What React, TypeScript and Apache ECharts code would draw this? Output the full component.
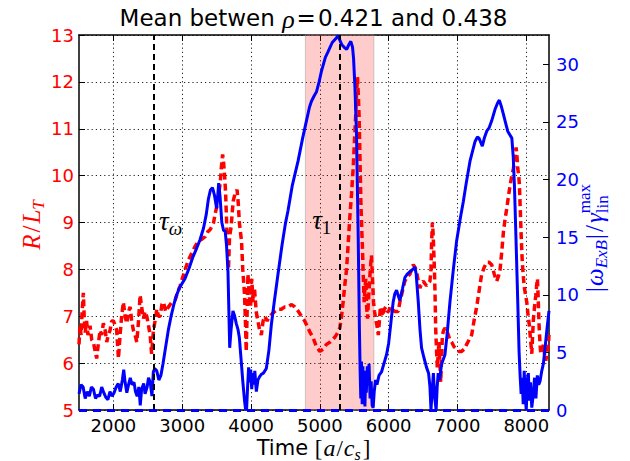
import React, { useEffect, useRef } from "react";
import * as echarts from "echarts";

// ---------- data ----------
const xTicks = [2000, 3000, 4000, 5000, 6000, 7000, 8000];
const leftTicks = [5, 6, 7, 8, 9, 10, 11, 12, 13];
const rightTicks = [0, 5, 10, 15, 20, 25, 30];
const tauLines = [2580, 5290];
const bandRange = [4790, 5785];
const tauLabelPos = [
  [2830, 9.03],
  [5028, 9.05],
];

const blueT = [
  1500, 1530, 1560, 1590, 1620, 1650, 1680, 1710, 1740, 1770, 1800, 1830, 1860, 1890, 1920, 1950, 1980, 2010,
  2040, 2070, 2100, 2130, 2150, 2170, 2195, 2220, 2245, 2270, 2300, 2320, 2345, 2370, 2390, 2410, 2440, 2460,
  2490, 2510, 2535, 2560, 2580, 2600, 2630, 2660, 2690, 2720, 2760, 2800, 2840, 2880, 2920, 2960, 3000, 3040,
  3100, 3150, 3200, 3260, 3310, 3350, 3380, 3410, 3440, 3470, 3500, 3515, 3530, 3550, 3575, 3600, 3625, 3645,
  3665, 3680, 3690, 3710, 3737, 3760, 3786, 3810, 3830, 3858, 3880, 3906, 3920, 3935, 3950, 3965, 3980, 3995,
  4010, 4025, 4040, 4055, 4077, 4100, 4125, 4150, 4180, 4222, 4260, 4295, 4340, 4392, 4450, 4500, 4537, 4600,
  4683, 4750, 4805, 4850, 4878, 4920, 4950, 4990, 5023, 5080, 5120, 5180, 5240, 5266, 5290, 5320, 5350, 5390,
  5420, 5450, 5475, 5490, 5510, 5533, 5557, 5575, 5585, 5595, 5605, 5615, 5625, 5635, 5645, 5655, 5665, 5675,
  5690, 5700, 5715, 5730, 5745, 5760, 5775, 5790, 5810, 5830, 5860, 5896, 5930, 5969, 6000, 6040, 6066, 6090,
  6115, 6140, 6163, 6200, 6236, 6270, 6309, 6350, 6381, 6400, 6430, 6455, 6478, 6510, 6550, 6580, 6600, 6615,
  6630, 6650, 6670, 6690, 6705, 6720, 6740, 6769, 6818, 6850, 6891, 6940, 6988, 7040, 7085, 7130, 7182, 7220,
  7255, 7290, 7313, 7340, 7361, 7390, 7425, 7460, 7497, 7546, 7580, 7608, 7640, 7666, 7700, 7730, 7760, 7790,
  7810, 7827, 7845, 7862, 7880, 7895, 7910, 7925, 7940, 7955, 7970, 7985, 8000, 8015, 8030, 8045, 8060, 8080,
  8100, 8120, 8140, 8160, 8180, 8200, 8225, 8248, 8280, 8300, 8330,
];
const blueV = [
  1.4, 2.2, 2.0, 1.0, 1.6, 1.2, 2.0, 1.8, 1.0, 1.3, 1.2, 2.0, 1.5, 1.1, 0.9, 1.6, 1.2, 1.5,
  2.0, 2.3, 1.6, 2.6, 3.5, 2.4, 1.5, 2.2, 2.8, 2.2, 2.4, 1.6, 1.2, 2.0, 0.4, 1.8, 2.3, 1.4,
  2.0, 2.8, 2.4, 1.2, 3.3, 3.6, 3.4, 2.6, 3.0, 4.0, 5.5, 7.0, 8.2, 9.2, 10.0, 10.6, 11.0, 11.4,
  12.3, 13.2, 13.9, 14.8, 15.8, 17.0, 18.3, 19.1, 19.3, 18.6, 17.5, 18.5, 19.7, 18.5, 16.3, 15.6, 15.5, 14.2,
  12.0, 8.0, 5.4, 7.0, 8.6, 8.2, 7.5, 7.0, 6.3, 4.2, 2.5, 0.8, 0.1, 0.0, 2.0, 3.7, 2.4, 3.5,
  1.8, 3.2, 2.2, 3.4, 1.6, 2.6, 2.9, 3.1, 3.2, 3.6, 5.2, 7.4, 9.5, 11.8, 14.3, 16.2, 17.3, 19.5,
  21.6, 23.6, 25.1, 26.3, 26.8, 27.3, 27.6, 28.5, 29.4, 30.6, 31.1, 31.9, 32.3, 32.5, 32.1, 31.7, 31.5, 31.3,
  31.7, 32.0, 31.5, 30.5, 28.0, 23.9, 15.2, 7.0, 3.5, 1.0, 4.2, 0.5, 3.8, 1.2, 3.4, 0.3, 3.0, 1.5,
  3.8, 2.2, 4.0, 1.0, 2.5, 0.4, 0.2, 1.6, 2.6, 2.2, 3.0, 3.3, 4.0, 4.8, 5.8, 8.0, 9.4, 10.1,
  10.4, 9.9, 9.5, 10.5, 11.5, 11.8, 12.0, 12.2, 12.4, 11.8, 9.4, 7.0, 5.4, 4.6, 3.7, 3.2, 2.0, 0.0,
  1.5, 3.2, 1.0, 0.0, 2.0, 3.2, 2.6, 4.0, 4.8, 6.6, 9.4, 12.2, 14.7, 16.6, 18.1, 19.8, 21.6, 22.5,
  23.3, 23.7, 23.6, 23.2, 22.9, 23.6, 24.2, 24.5, 25.1, 26.1, 26.6, 26.9, 26.3, 25.7, 24.9, 24.2, 23.9, 23.6,
  22.0, 19.6, 16.0, 12.4, 8.5, 5.1, 3.0, 1.4, 2.8, 0.5, 3.4, 1.0, 0.0, 2.6, 3.2, 0.8, 2.4, 0.2,
  1.3, 2.8, 1.0, 3.0, 2.2, 2.5, 3.4, 4.0, 5.8, 7.0, 8.6,
];

const redT = [
  1500, 1515, 1530, 1545, 1563, 1575, 1590, 1610, 1630, 1660, 1685, 1709, 1735, 1757, 1780, 1806, 1830, 1854,
  1880, 1903, 1925, 1951, 1975, 2000, 2025, 2048, 2073, 2097, 2120, 2145, 2170, 2194, 2220, 2243, 2265, 2291,
  2315, 2340, 2365, 2388, 2410, 2437, 2460, 2485, 2510, 2534, 2555, 2582, 2605, 2631, 2655, 2680, 2705, 2728,
  2760, 2801, 2850, 2898, 2930, 2970, 3000, 3043, 3090, 3140, 3190, 3237, 3290, 3334, 3370, 3407, 3456, 3480,
  3504, 3530, 3553, 3570, 3587, 3600, 3616, 3630, 3645, 3660, 3672, 3688, 3710, 3740, 3765, 3797, 3815, 3830,
  3862, 3880, 3906, 3920, 3930, 3945, 3955, 3970, 3993, 4010, 4030, 4050, 4075, 4100, 4125, 4150, 4175, 4200,
  4235, 4270, 4305, 4343, 4390, 4440, 4490, 4537, 4590, 4635, 4690, 4732, 4780, 4828, 4860, 4900, 4950, 5000,
  5050, 5096, 5150, 5217, 5260, 5290, 5315, 5338, 5365, 5388, 5410, 5435, 5460, 5484, 5505, 5523, 5535, 5547,
  5560, 5572, 5584, 5596, 5608, 5620, 5632, 5644, 5656, 5668, 5680, 5693, 5705, 5717, 5733, 5750, 5765, 5780,
  5795, 5810, 5830, 5850, 5865, 5880, 5895, 5910, 5935, 5960, 5980, 6000, 6020, 6050, 6090, 6139, 6163, 6187,
  6210, 6236, 6270, 6309, 6357, 6380, 6406, 6430, 6454, 6480, 6503, 6525, 6551, 6575, 6600, 6615, 6625, 6635,
  6645, 6655, 6665, 6675, 6683, 6695, 6707, 6720, 6731, 6745, 6756, 6770, 6780, 6800, 6818, 6840, 6867, 6890,
  6915, 6950, 6988, 7020, 7060, 7100, 7133, 7170, 7206, 7240, 7279, 7315, 7352, 7390, 7425, 7460, 7497, 7535,
  7570, 7595, 7619, 7645, 7668, 7690, 7716, 7740, 7765, 7790, 7813, 7835, 7852, 7865, 7876, 7890, 7900, 7912,
  7925, 7937, 7949, 7960, 7973, 7990, 8007, 8020, 8032, 8045, 8056, 8068, 8080, 8092, 8104, 8120, 8138, 8150,
  8162, 8175, 8187, 8200, 8211, 8230, 8250, 8265, 8283, 8300, 8322, 8330,
];
const redV = [
  6.4, 6.8, 6.6, 7.1, 7.5, 7.0, 6.65, 6.9, 6.6, 6.8, 6.5, 6.45, 6.25, 6.1, 6.4, 6.7, 6.6, 6.85,
  6.7, 6.45, 6.6, 6.7, 6.9, 6.9, 6.8, 6.7, 6.1, 6.6, 7.0, 7.3, 7.0, 6.85, 7.1, 7.2, 6.9, 6.7,
  6.6, 6.45, 6.9, 7.45, 7.2, 6.95, 7.1, 7.0, 6.8, 6.6, 6.2, 6.7, 6.9, 7.15, 7.0, 7.0, 7.25, 7.3,
  7.1, 7.2, 7.3, 7.35, 7.5, 7.65, 7.8, 8.0, 8.2, 8.35, 8.5, 8.6, 8.65, 8.7, 8.8, 8.85, 9.0, 9.2,
  9.35, 9.6, 9.85, 10.2, 10.45, 10.3, 10.0, 9.65, 9.0, 8.4, 8.0, 8.7, 8.9, 9.45, 9.6, 9.7, 9.4, 9.0,
  8.6, 8.0, 7.45, 6.8, 6.25, 7.2, 7.9, 7.5, 7.2, 7.8, 7.3, 7.6, 7.1, 6.9, 6.7, 6.6, 6.9, 7.0,
  6.9, 7.0, 7.05, 7.1, 7.15, 7.15, 7.2, 7.2, 7.25, 7.2, 7.1, 7.0, 6.9, 6.75, 6.65, 6.55, 6.35, 6.25,
  6.3, 6.4, 6.45, 6.55, 6.65, 6.75, 7.0, 7.3, 7.7, 8.0, 8.5, 9.1, 9.6, 10.15, 10.8, 11.35, 11.8, 12.1,
  11.7, 11.2, 10.3, 9.45, 8.9, 8.4, 7.8, 7.3, 7.6, 7.8, 7.2, 6.95, 7.3, 7.6, 8.0, 8.3, 7.8, 7.3,
  7.1, 6.95, 6.8, 6.6, 6.9, 7.2, 7.1, 7.0, 7.15, 7.2, 7.1, 7.1, 7.2, 7.15, 7.1, 7.1, 7.3, 7.45,
  7.6, 7.75, 7.85, 7.9, 8.1, 8.05, 7.95, 7.75, 7.6, 7.7, 7.75, 7.7, 7.65, 7.7, 7.75, 8.0, 8.6, 9.0,
  8.8, 8.4, 8.0, 7.4, 6.75, 6.3, 5.9, 6.2, 6.45, 6.0, 5.6, 6.1, 6.6, 6.7, 6.75, 6.7, 6.6, 6.5,
  6.45, 6.35, 6.3, 6.25, 6.25, 6.3, 6.4, 6.5, 6.6, 6.9, 7.2, 7.55, 7.9, 8.05, 8.15, 8.15, 8.1, 7.9,
  7.75, 7.85, 8.0, 8.4, 8.8, 9.05, 9.3, 9.55, 9.8, 10.0, 10.15, 10.4, 10.6, 10.4, 10.15, 10.0, 9.8, 9.3,
  8.75, 8.3, 8.0, 7.8, 7.6, 7.45, 7.3, 7.1, 6.95, 6.8, 6.6, 6.4, 6.2, 6.6, 6.95, 7.2, 7.45, 7.65,
  7.8, 7.3, 6.75, 6.4, 6.2, 6.3, 6.4, 6.2, 6.05, 6.2, 6.4, 6.6,
];

// ---------- helpers ----------
const SANS = '"DejaVu Sans"';
const SERIF = '"Liberation Serif"';

let ctx: CanvasRenderingContext2D | null = null;
function measure(text: string, size: number, fam: string, italic: boolean) {
  if (!ctx) ctx = document.createElement("canvas").getContext("2d");
  if (!ctx) return text.length * size * 0.6;
  ctx.font = `${italic ? "italic " : ""}${size}px ${fam}`;
  return ctx.measureText(text).width;
}

type Piece = { t: string; size: number; fam: string; italic?: boolean; dy: number; gap?: number; stack?: boolean };

function buildPieces(pieces: Piece[], color: string) {
  let x = 0;
  let prevStart = 0;
  const items: any[] = [];
  for (const p of pieces) {
    const w = measure(p.t, p.size, p.fam, !!p.italic);
    let start: number;
    if (p.stack) {
      start = prevStart;
      x = Math.max(x, start + w);
    } else {
      start = x + (p.gap || 0);
      x = start + w;
    }
    items.push({ start, p });
    prevStart = start;
  }
  const total = x;
  return items.map(({ start, p }) => ({
    type: "text",
    x: start - total / 2,
    y: p.dy,
    silent: true,
    style: {
      text: p.t,
      fontSize: p.size,
      fontFamily: p.fam,
      fontStyle: p.italic ? "italic" : "normal",
      fill: color,
      align: "left",
      verticalAlign: "middle",
    },
  }));
}

export default function App() {
  const ref = useRef<HTMLDivElement>(null);
  useEffect(() => {
    if (!ref.current) return;
    const chart = echarts.init(ref.current, undefined, { renderer: "svg" });

    const redData = redT.map((t, i) => [t, redV[i]]);
    const blueData = blueT.map((t, i) => [t, blueV[i]]);

    const titleEls = buildPieces(
      [
        { t: "Mean betwen ", size: 23, fam: SANS, dy: 0 },
        { t: "ρ", size: 26, fam: SERIF, italic: true, dy: 1 },
        { t: "=", size: 23, fam: SANS, dy: 0, gap: 2 },
        { t: "0.421 and 0.438", size: 23, fam: SANS, dy: 0, gap: 2 },
      ],
      "#000"
    );

    const xNameEls = buildPieces(
      [
        { t: "Time ", size: 21, fam: SANS, dy: 0 },
        { t: "[", size: 23, fam: SERIF, dy: 0 },
        { t: "a", size: 24, fam: SERIF, italic: true, dy: 0, gap: 1 },
        { t: "/", size: 23, fam: SERIF, dy: 0, gap: 1 },
        { t: "c", size: 24, fam: SERIF, italic: true, dy: 0, gap: 1 },
        { t: "s", size: 16, fam: SERIF, italic: true, dy: 6 },
        { t: "]", size: 23, fam: SERIF, dy: 0, gap: 2 },
      ],
      "#000"
    );

    const leftNameEls = buildPieces(
      [
        { t: "R", size: 25, fam: SERIF, italic: true, dy: 0 },
        { t: "/", size: 25, fam: SERIF, dy: 0, gap: 2 },
        { t: "L", size: 25, fam: SERIF, italic: true, dy: 0, gap: 2 },
        { t: "T", size: 17, fam: SERIF, italic: true, dy: 7 },
      ],
      "#ff0000"
    );

    const rightNameEls = buildPieces(
      [
        { t: "|", size: 25, fam: SERIF, dy: 0 },
        { t: "ω", size: 25, fam: SERIF, italic: true, dy: 0, gap: 1 },
        { t: "ExB", size: 17, fam: SERIF, italic: true, dy: 7 },
        { t: "|", size: 25, fam: SERIF, dy: 0, gap: 1 },
        { t: "/", size: 25, fam: SERIF, dy: 0, gap: 2 },
        { t: "γ", size: 25, fam: SERIF, italic: true, dy: 0, gap: 2 },
        { t: "lin", size: 17, fam: SERIF, dy: 8 },
        { t: "max", size: 17, fam: SERIF, dy: -10, stack: true },
      ],
      "#0000ff"
    );

    const tickFont = { fontSize: 18, fontFamily: SANS };
    const plain = (v: number) => String(v);

    chart.setOption({
      animation: false,
      backgroundColor: "#ffffff",
      grid: { left: 79, right: 81, top: 35, bottom: 51, containLabel: false },
      xAxis: [
        {
          type: "value",
          min: 1500,
          max: 8330,
          position: "bottom",
          axisLine: { show: true, onZero: false, lineStyle: { color: "#000", width: 1.5 } },
          axisTick: { show: true, inside: true, length: 6, customValues: xTicks, lineStyle: { color: "#000", width: 1 } },
          axisLabel: { show: true, customValues: xTicks, formatter: plain, color: "#000", margin: 6, ...tickFont },
          splitLine: { show: true, lineStyle: { color: "#222", width: 1, type: [1.2, 3] } },
        },
        {
          type: "value",
          min: 1500,
          max: 8330,
          position: "top",
          axisLine: { show: true, onZero: false, lineStyle: { color: "#000", width: 1.5 } },
          axisTick: { show: true, inside: true, length: 6, customValues: xTicks, lineStyle: { color: "#000", width: 1 } },
          axisLabel: { show: false },
          splitLine: { show: false },
        },
      ],
      yAxis: [
        {
          type: "value",
          min: 5,
          max: 13,
          interval: 1,
          position: "left",
          axisLine: { show: true, onZero: false, lineStyle: { color: "#000", width: 1.5 } },
          axisTick: { show: true, inside: true, length: 6, customValues: leftTicks, lineStyle: { color: "#000", width: 1 } },
          axisLabel: { show: true, customValues: leftTicks, formatter: plain, color: "#ff0000", margin: 5, ...tickFont },
          splitLine: { show: true, lineStyle: { color: "#222", width: 1, type: [1.2, 3] } },
        },
        {
          type: "value",
          min: 0,
          max: 32.55,
          position: "right",
          axisLine: { show: true, onZero: false, lineStyle: { color: "#000", width: 1.5 } },
          axisTick: { show: true, inside: true, length: 6, customValues: rightTicks, lineStyle: { color: "#000", width: 1 } },
          axisLabel: { show: true, customValues: rightTicks, formatter: plain, color: "#0000ff", margin: 7, ...tickFont },
          splitLine: { show: false },
        },
      ],
      series: [
        {
          type: "line",
          name: "R/LT",
          xAxisIndex: 0,
          yAxisIndex: 0,
          data: redData,
          symbol: "none",
          clip: true,
          z: 2,
          lineStyle: { color: "#ff0000", width: 3.5, type: [7, 4] },
          markArea: {
            silent: true,
            itemStyle: { color: "rgba(255,0,0,0.2)", borderColor: "rgba(160,160,160,0.5)", borderWidth: 1 },
            data: [[{ xAxis: bandRange[0] }, { xAxis: bandRange[1] }]],
          },
          markLine: {
            silent: true,
            symbol: ["none", "none"],
            label: { show: false },
            lineStyle: { color: "#000", width: 2, type: [6, 4] },
            data: tauLines.map((v) => ({ xAxis: v })),
          },
          markPoint: {
            silent: true,
            symbol: "circle",
            symbolSize: 0,
            data: [
              {
                coord: tauLabelPos[0],
                label: {
                  show: true,
                  position: "inside",
                  formatter: "{t|τ}{s|ω}",
                  rich: {
                    t: { fontFamily: SERIF, fontStyle: "italic", fontSize: 27, lineHeight: 34, color: "#000", verticalAlign: "middle" },
                    s: { fontFamily: SERIF, fontStyle: "italic", fontSize: 19, lineHeight: 19, color: "#000", verticalAlign: "bottom" },
                  },
                },
              },
              {
                coord: tauLabelPos[1],
                label: {
                  show: true,
                  position: "inside",
                  formatter: "{t|τ}{s|1}",
                  rich: {
                    t: { fontFamily: SERIF, fontStyle: "italic", fontSize: 27, lineHeight: 34, color: "#000", verticalAlign: "middle" },
                    s: { fontFamily: SERIF, fontSize: 19, lineHeight: 19, color: "#000", verticalAlign: "bottom" },
                  },
                },
              },
            ],
          },
        },
        {
          type: "line",
          name: "omega",
          xAxisIndex: 0,
          yAxisIndex: 1,
          data: blueData,
          symbol: "none",
          clip: true,
          z: 3,
          lineStyle: { color: "#0000ff", width: 3 },
          markLine: {
            silent: true,
            symbol: ["none", "none"],
            label: { show: false },
            lineStyle: { color: "#0000ff", width: 3, type: [8, 6] },
            data: [{ yAxis: 0 }],
          },
        },
      ],
      graphic: [
        { type: "group", x: 313.5, y: 18, children: titleEls },
        { type: "group", x: 313.5, y: 448, children: xNameEls },
        { type: "group", x: 31, y: 225, rotation: Math.PI / 2, children: leftNameEls },
        { type: "group", x: 594, y: 238, rotation: Math.PI / 2, children: rightNameEls },
      ],
    });

    return () => chart.dispose();
  }, []);

  return (
    <div
      ref={ref}
      style={{ position: "fixed", left: 0, top: 0, width: 630, height: 461, background: "#fff" }}
    />
  );
}
